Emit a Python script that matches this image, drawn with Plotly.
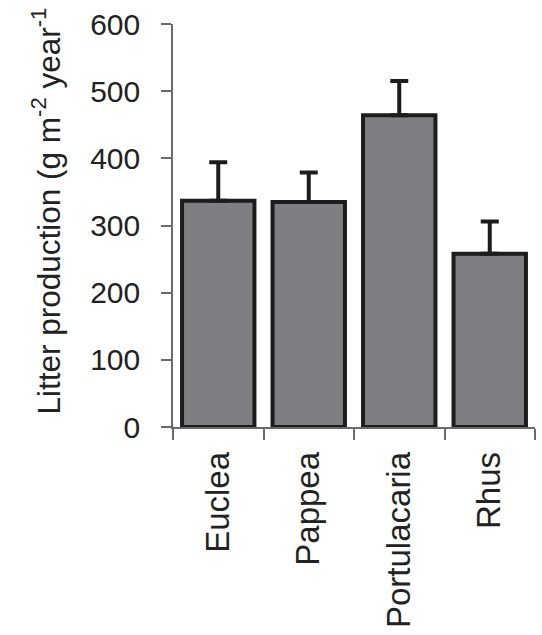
import plotly.graph_objects as go

# Mean annual litter production per species with upper standard error
species = ["Euclea", "Pappea", "Portulacaria", "Rhus"]
litter = [337, 335, 464, 258]
litter_se = [57, 44, 51, 48]
y_ticks = [0, 100, 200, 300, 400, 500, 600]

FONT = "Liberation Sans, Arial, sans-serif"
AXIS_GREY = "#6a6a6a"
INK = "#1c1c1c"

fig = go.Figure(
    go.Bar(
        x=species,
        y=litter,
        width=0.8,
        marker=dict(color="#7e7f83", line=dict(color=INK, width=4)),
        error_y=dict(
            type="data",
            symmetric=False,
            array=litter_se,
            arrayminus=[0] * len(litter_se),
            color=INK,
            thickness=4,
            width=9,
        ),
    )
)

fig.update_layout(
    width=542,
    height=635,
    margin=dict(l=173, r=7, t=23, b=206),
    paper_bgcolor="white",
    plot_bgcolor="white",
    showlegend=False,
    font=dict(family=FONT, color="#222222"),
)

fig.update_xaxes(
    type="category",
    range=[-0.5, 3.5],
    tickson="boundaries",
    ticks="outside",
    ticklen=11,
    tickwidth=1.5,
    tickcolor=AXIS_GREY,
    showline=True,
    linecolor=AXIS_GREY,
    linewidth=1.5,
    showgrid=False,
    tickangle=-90,
    tickfont=dict(size=33, family=FONT, color="#222222"),
    ticklabelstandoff=10,
)

fig.update_yaxes(
    range=[0, 600],
    tickvals=y_ticks,
    ticktext=[str(v) for v in y_ticks],
    ticks="outside",
    ticklen=10,
    tickwidth=1.5,
    tickcolor=AXIS_GREY,
    showline=True,
    linecolor=AXIS_GREY,
    linewidth=1.5,
    showgrid=False,
    zeroline=False,
    tickfont=dict(size=30, family=FONT, color="#222222"),
    ticklabelstandoff=15,
)

# Rotated y-axis title with superscript units
fig.add_annotation(
    text="Litter production (g m<sup>-2</sup> year<sup>-1</sup>",
    textangle=-90,
    xref="paper",
    yref="paper",
    x=(46 - 173) / 362,
    y=(429 - 212) / 406,
    xanchor="center",
    yanchor="middle",
    showarrow=False,
    font=dict(size=31.5, family=FONT, color="#222222"),
)

fig.write_html("out.html")
